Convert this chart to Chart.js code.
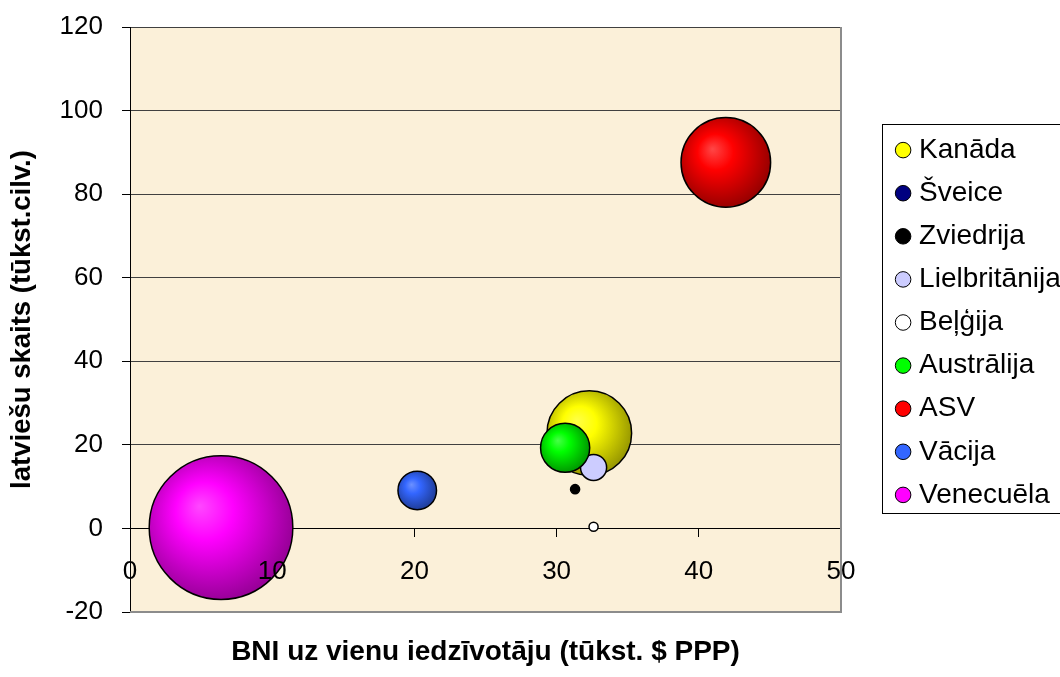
<!DOCTYPE html>
<html>
<head>
<meta charset="utf-8">
<script src="https://cdn.jsdelivr.net/npm/chart.js@4/dist/chart.umd.min.js"></script>
<style>
html,body{margin:0;padding:0;background:#fff;}
#wrap{width:1060px;height:677px;position:relative;}
</style>
</head>
<body>
<div id="wrap"><canvas id="c" width="1060" height="677"></canvas></div>
<script>
// ---- data ----
const countries = ['Kanāda','Šveice','Zviedrija','Lielbritānija','Beļģija','Austrālija','ASV','Vācija','Venecuēla'];
const gniPerCapita = [32.3, null, 31.3, 32.6, 32.6, 30.6, 41.9, 20.2, 6.4];   // x: tūkst. $ PPP
const latvians     = [22.8, null, 9.4, 14.6, 0.4, 19.3, 87.6, 9.1, 0.2];      // y: tūkst. cilv.
const bubbleSizes  = [34.7, null, 0.4, 3.3, 0.4, 11.7, 38.9, 7.2, 100];        // bubble size (relative)
const colors       = ['#ffff00','#000080','#000000','#ccccff','#ffffff','#00ff00','#ff0000','#3366ff','#ff00ff'];
const xTicks = [0, 10, 20, 30, 40, 50];
const yTicks = [-20, 0, 20, 40, 60, 80, 100, 120];
const xTitle = 'BNI uz vienu iedzīvotāju (tūkst. $ PPP)';
const yTitle = 'latviešu skaits (tūkst.cilv.)';

const FONT = "'Liberation Sans', Arial, Helvetica, sans-serif";
const maxSize = Math.max(...bubbleSizes.filter(v => v != null));
// largest bubble diameter = 24.55% of the plot height (585 px), bubble area proportional to size
const PLOT_H = 585;
function bubbleRadius(size) { return PLOT_H * 0.2455 / 2 * Math.sqrt(size / maxSize); }

function mix(hex, target, t) {
  const a = parseInt(hex.slice(1), 16), b = parseInt(target.slice(1), 16);
  const ch = (v, s) => (v >> s) & 255;
  const m = s => Math.round(ch(a, s) * (1 - t) + ch(b, s) * t);
  return 'rgb(' + m(16) + ',' + m(8) + ',' + m(0) + ')';
}
function fillFor(i, c) {
  const raw = c.raw, chart = c.chart;
  if (!raw || !chart.chartArea || !chart.scales || !chart.scales.x) return colors[i];
  const r = raw.r;
  if (!(r >= 15)) return colors[i];
  const cx = chart.scales.x.getPixelForValue(raw.x);
  const cy = chart.scales.y.getPixelForValue(raw.y);
  if (!isFinite(cx) || !isFinite(cy)) return colors[i];
  const g = chart.ctx.createRadialGradient(cx - 0.3 * r, cy - 0.3 * r, 0, cx - 0.1 * r, cy - 0.1 * r, r * 1.15);
  g.addColorStop(0, mix(colors[i], '#ffffff', 0.28));
  g.addColorStop(0.35, colors[i]);
  g.addColorStop(1, mix(colors[i], '#000000', 0.42));
  return g;
}

const datasets = countries.map((name, i) => ({
  label: name,
  data: gniPerCapita[i] == null ? [] : [{ x: gniPerCapita[i], y: latvians[i], r: bubbleRadius(bubbleSizes[i]) }],
  order: countries.length - i,
  borderColor: '#000',
  borderWidth: 1.5,
  hoverRadius: 0,
  backgroundColor: c => fillFor(i, c)
}));

const LEG = { frameLeft: 882.5, frameTop: 124.5, frameBottom: 513.5, left: 886, top: 121 };

const framePlugin = {
  id: 'framePlugin',
  beforeDraw(chart) {
    const { ctx, chartArea: a } = chart;
    ctx.save();
    ctx.fillStyle = '#fbf0d9';
    ctx.fillRect(a.left, a.top, a.right - a.left, a.bottom - a.top);
    ctx.fillStyle = '#ffffff';
    ctx.fillRect(LEG.frameLeft, LEG.frameTop, 1070 - LEG.frameLeft, LEG.frameBottom - LEG.frameTop);
    ctx.strokeStyle = '#000';
    ctx.lineWidth = 1;
    ctx.strokeRect(LEG.frameLeft, LEG.frameTop, 1070 - LEG.frameLeft, LEG.frameBottom - LEG.frameTop);
    ctx.restore();
  },
  beforeDatasetsDraw(chart) {
    const { ctx, chartArea: a } = chart;
    ctx.save();
    ctx.strokeStyle = '#8c8c8c';
    ctx.lineWidth = 2;
    ctx.beginPath();
    ctx.moveTo(a.left, a.bottom);
    ctx.lineTo(a.right, a.bottom);
    ctx.lineTo(a.right, a.top);
    ctx.stroke();
    ctx.restore();
  },
  afterLayout(chart) {
    const lg = chart.legend;
    if (!lg) return;
    lg.left = LEG.left; lg.top = LEG.top; lg.right = 1060; lg.bottom = 677;
    lg.width = lg.right - lg.left; lg.height = lg.bottom - lg.top;
  }
};

new Chart(document.getElementById('c'), {
  type: 'bubble',
  data: { datasets },
  plugins: [framePlugin],
  options: {
    responsive: false,
    animation: false,
    events: [],
    devicePixelRatio: 1,
    layout: { autoPadding: false, padding: { left: 0, top: 27, right: 69, bottom: 0 } },
    scales: {
      x: {
        type: 'linear', position: { y: 0 }, min: 0, max: 50,
        afterBuildTicks: s => { s.ticks = xTicks.map(v => ({ value: v })); },
        afterFit: s => { s.height = 0; },
        grid: { drawOnChartArea: false, drawTicks: true, tickLength: 8, color: '#000', tickColor: '#000' },
        border: { display: true, color: '#000', width: 1 },
        ticks: { z: 1, color: '#000', font: { family: FONT, size: 26 }, padding: 20, maxRotation: 0, autoSkip: false }
      },
      xt: {
        type: 'linear', axis: 'x', position: 'bottom', min: 0, max: 50,
        afterFit: s => { s.height = 65; },
        grid: { display: false },
        border: { display: false },
        ticks: { display: false },
        title: { display: true, text: xTitle, color: '#000', font: { family: FONT, size: 28, weight: 'bold' }, padding: { top: 0, bottom: 8 } }
      },
      y: {
        type: 'linear', position: 'left', min: -20, max: 120,
        afterBuildTicks: s => { s.ticks = yTicks.map(v => ({ value: v })); },
        afterFit: s => { s.width = 130; s.paddingTop = 10; s.paddingBottom = 10; },
        grid: { color: '#404040', lineWidth: 1, drawTicks: true, tickLength: 8, tickColor: '#000' },
        border: { display: true, color: '#000', width: 1 },
        ticks: { color: '#000', font: { family: FONT, size: 26 }, padding: 19 },
        title: { display: true, text: yTitle, color: '#000', font: { family: FONT, size: 27.5, weight: 'bold' }, padding: { top: 6, bottom: 0 } }
      }
    },
    plugins: {
      tooltip: { enabled: false },
      legend: {
        display: true,
        position: 'right',
        align: 'start',
        maxWidth: 150,
        labels: {
          usePointStyle: true,
          pointStyle: 'circle',
          boxWidth: 4,
          boxHeight: 11,
          padding: 15.1,
          color: '#000',
          font: { family: FONT, size: 28 },
          sort: (a, b) => a.datasetIndex - b.datasetIndex,
          generateLabels: chart => Chart.defaults.plugins.legend.labels.generateLabels(chart).map(it =>
            Object.assign(it, { fillStyle: colors[it.datasetIndex], strokeStyle: '#000', lineWidth: 1, pointStyle: 'circle' }))
        }
      }
    }
  }
});
</script>
</body>
</html>
